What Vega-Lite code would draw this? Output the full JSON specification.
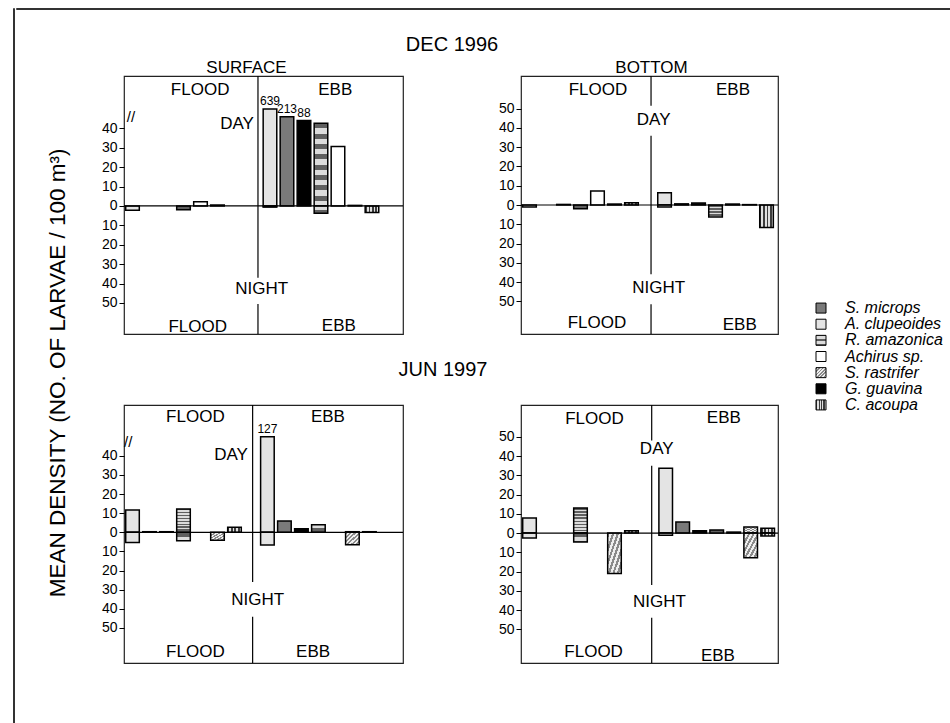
{
  "$schema": "https://vega.github.io/schema/vega-lite/v6.json",
  "padding": {"left": 12, "top": 7, "right": 0, "bottom": 0},
  "params": [
    {"name": "gR", "value": {"gradient": "linear", "x1": 0, "y1": 0, "x2": 0, "y2": 1, "stops": [
      {"offset": 0, "color": "#5f5f5f"}, {"offset": 0.0625, "color": "#5f5f5f"}, {"offset": 0.0625, "color": "#dcdcdc"}, {"offset": 0.125, "color": "#dcdcdc"},
      {"offset": 0.125, "color": "#5f5f5f"}, {"offset": 0.1875, "color": "#5f5f5f"}, {"offset": 0.1875, "color": "#dcdcdc"}, {"offset": 0.25, "color": "#dcdcdc"},
      {"offset": 0.25, "color": "#5f5f5f"}, {"offset": 0.3125, "color": "#5f5f5f"}, {"offset": 0.3125, "color": "#dcdcdc"}, {"offset": 0.375, "color": "#dcdcdc"},
      {"offset": 0.375, "color": "#5f5f5f"}, {"offset": 0.4375, "color": "#5f5f5f"}, {"offset": 0.4375, "color": "#dcdcdc"}, {"offset": 0.5, "color": "#dcdcdc"},
      {"offset": 0.5, "color": "#5f5f5f"}, {"offset": 0.5625, "color": "#5f5f5f"}, {"offset": 0.5625, "color": "#dcdcdc"}, {"offset": 0.625, "color": "#dcdcdc"},
      {"offset": 0.625, "color": "#5f5f5f"}, {"offset": 0.6875, "color": "#5f5f5f"}, {"offset": 0.6875, "color": "#dcdcdc"}, {"offset": 0.75, "color": "#dcdcdc"},
      {"offset": 0.75, "color": "#5f5f5f"}, {"offset": 0.8125, "color": "#5f5f5f"}, {"offset": 0.8125, "color": "#dcdcdc"}, {"offset": 0.875, "color": "#dcdcdc"},
      {"offset": 0.875, "color": "#5f5f5f"}, {"offset": 0.9375, "color": "#5f5f5f"}, {"offset": 0.9375, "color": "#dcdcdc"}, {"offset": 1, "color": "#dcdcdc"}
    ]}},
    {"name": "gS", "value": {"gradient": "linear", "x1": 0, "y1": 0, "x2": 1, "y2": 1, "stops": [
      {"offset": 0, "color": "#8a8a8a"}, {"offset": 0.0833, "color": "#8a8a8a"}, {"offset": 0.0833, "color": "#efefef"}, {"offset": 0.1667, "color": "#efefef"},
      {"offset": 0.1667, "color": "#8a8a8a"}, {"offset": 0.25, "color": "#8a8a8a"}, {"offset": 0.25, "color": "#efefef"}, {"offset": 0.3333, "color": "#efefef"},
      {"offset": 0.3333, "color": "#8a8a8a"}, {"offset": 0.4167, "color": "#8a8a8a"}, {"offset": 0.4167, "color": "#efefef"}, {"offset": 0.5, "color": "#efefef"},
      {"offset": 0.5, "color": "#8a8a8a"}, {"offset": 0.5833, "color": "#8a8a8a"}, {"offset": 0.5833, "color": "#efefef"}, {"offset": 0.6667, "color": "#efefef"},
      {"offset": 0.6667, "color": "#8a8a8a"}, {"offset": 0.75, "color": "#8a8a8a"}, {"offset": 0.75, "color": "#efefef"}, {"offset": 0.8333, "color": "#efefef"},
      {"offset": 0.8333, "color": "#8a8a8a"}, {"offset": 0.9167, "color": "#8a8a8a"}, {"offset": 0.9167, "color": "#efefef"}, {"offset": 1, "color": "#efefef"}
    ]}},
    {"name": "gC", "value": {"gradient": "linear", "x1": 0, "y1": 0, "x2": 1, "y2": 0, "stops": [
      {"offset": 0, "color": "#3c3c3c"}, {"offset": 0.125, "color": "#3c3c3c"}, {"offset": 0.125, "color": "#e0e0e0"}, {"offset": 0.25, "color": "#e0e0e0"},
      {"offset": 0.25, "color": "#3c3c3c"}, {"offset": 0.375, "color": "#3c3c3c"}, {"offset": 0.375, "color": "#e0e0e0"}, {"offset": 0.5, "color": "#e0e0e0"},
      {"offset": 0.5, "color": "#3c3c3c"}, {"offset": 0.625, "color": "#3c3c3c"}, {"offset": 0.625, "color": "#e0e0e0"}, {"offset": 0.75, "color": "#e0e0e0"},
      {"offset": 0.75, "color": "#3c3c3c"}, {"offset": 0.875, "color": "#3c3c3c"}, {"offset": 0.875, "color": "#e0e0e0"}, {"offset": 1, "color": "#e0e0e0"}
    ]}}
  ],
  "datasets": {
    "one": [{}],
    "legend": [
      {"sp": "S. microps"}, {"sp": "A. clupeoides"}, {"sp": "R. amazonica"}, {"sp": "Achirus sp."},
      {"sp": "S. rastrifer"}, {"sp": "G. guavina"}, {"sp": "C. acoupa"}
    ],
    "bars": [
      {"panel": "DS", "tide": "FLOOD", "sp": "A. clupeoides", "value": -2.2},
      {"panel": "DS", "tide": "FLOOD", "sp": "R. amazonica", "value": -2},
      {"panel": "DS", "tide": "FLOOD", "sp": "Achirus sp.", "value": 2.2},
      {"panel": "DS", "tide": "FLOOD", "sp": "S. rastrifer", "value": 0.5},
      {"panel": "DS", "tide": "EBB", "sp": "A. clupeoides", "value": 50, "label": "639"},
      {"panel": "DS", "tide": "EBB", "sp": "A. clupeoides", "value": -0.6},
      {"panel": "DS", "tide": "EBB", "sp": "S. microps", "value": 46, "label": "213"},
      {"panel": "DS", "tide": "EBB", "sp": "G. guavina", "value": 44, "label": "88"},
      {"panel": "DS", "tide": "EBB", "sp": "R. amazonica", "value": 42.6},
      {"panel": "DS", "tide": "EBB", "sp": "R. amazonica", "value": -3.7},
      {"panel": "DS", "tide": "EBB", "sp": "Achirus sp.", "value": 30.6},
      {"panel": "DS", "tide": "EBB", "sp": "S. rastrifer", "value": 0.3},
      {"panel": "DS", "tide": "EBB", "sp": "C. acoupa", "value": -3.4},
      {"panel": "DB", "tide": "FLOOD", "sp": "A. clupeoides", "value": -1},
      {"panel": "DB", "tide": "FLOOD", "sp": "G. guavina", "value": 0.3},
      {"panel": "DB", "tide": "FLOOD", "sp": "R. amazonica", "value": -1.9},
      {"panel": "DB", "tide": "FLOOD", "sp": "Achirus sp.", "value": 7.3},
      {"panel": "DB", "tide": "FLOOD", "sp": "S. rastrifer", "value": 0.5},
      {"panel": "DB", "tide": "FLOOD", "sp": "C. acoupa", "value": 1.2},
      {"panel": "DB", "tide": "EBB", "sp": "A. clupeoides", "value": 6.4},
      {"panel": "DB", "tide": "EBB", "sp": "A. clupeoides", "value": -1},
      {"panel": "DB", "tide": "EBB", "sp": "S. microps", "value": 0.6},
      {"panel": "DB", "tide": "EBB", "sp": "G. guavina", "value": 1},
      {"panel": "DB", "tide": "EBB", "sp": "R. amazonica", "value": -6.2},
      {"panel": "DB", "tide": "EBB", "sp": "Achirus sp.", "value": 0.5},
      {"panel": "DB", "tide": "EBB", "sp": "S. rastrifer", "value": 0.2},
      {"panel": "DB", "tide": "EBB", "sp": "C. acoupa", "value": -11.7},
      {"panel": "JS", "tide": "FLOOD", "sp": "A. clupeoides", "value": 11.7},
      {"panel": "JS", "tide": "FLOOD", "sp": "A. clupeoides", "value": -5.4},
      {"panel": "JS", "tide": "FLOOD", "sp": "S. microps", "value": 0.3},
      {"panel": "JS", "tide": "FLOOD", "sp": "G. guavina", "value": 0.3},
      {"panel": "JS", "tide": "FLOOD", "sp": "R. amazonica", "value": 12.2},
      {"panel": "JS", "tide": "FLOOD", "sp": "R. amazonica", "value": -4.4},
      {"panel": "JS", "tide": "FLOOD", "sp": "S. rastrifer", "value": -4.2},
      {"panel": "JS", "tide": "FLOOD", "sp": "C. acoupa", "value": 2.6},
      {"panel": "JS", "tide": "EBB", "sp": "A. clupeoides", "value": 50, "label": "127"},
      {"panel": "JS", "tide": "EBB", "sp": "A. clupeoides", "value": -6.6},
      {"panel": "JS", "tide": "EBB", "sp": "S. microps", "value": 5.9},
      {"panel": "JS", "tide": "EBB", "sp": "G. guavina", "value": 1.9},
      {"panel": "JS", "tide": "EBB", "sp": "R. amazonica", "value": 4},
      {"panel": "JS", "tide": "EBB", "sp": "S. rastrifer", "value": 0.3},
      {"panel": "JS", "tide": "EBB", "sp": "S. rastrifer", "value": -6.5},
      {"panel": "JS", "tide": "EBB", "sp": "C. acoupa", "value": 0.3},
      {"panel": "JB", "tide": "FLOOD", "sp": "A. clupeoides", "value": 7.8},
      {"panel": "JB", "tide": "FLOOD", "sp": "A. clupeoides", "value": -2.6},
      {"panel": "JB", "tide": "FLOOD", "sp": "R. amazonica", "value": 13},
      {"panel": "JB", "tide": "FLOOD", "sp": "R. amazonica", "value": -4.7},
      {"panel": "JB", "tide": "FLOOD", "sp": "S. rastrifer", "value": -21},
      {"panel": "JB", "tide": "FLOOD", "sp": "C. acoupa", "value": 1.2},
      {"panel": "JB", "tide": "EBB", "sp": "A. clupeoides", "value": 33.7},
      {"panel": "JB", "tide": "EBB", "sp": "A. clupeoides", "value": -1.2},
      {"panel": "JB", "tide": "EBB", "sp": "S. microps", "value": 5.7},
      {"panel": "JB", "tide": "EBB", "sp": "G. guavina", "value": 1.2},
      {"panel": "JB", "tide": "EBB", "sp": "R. amazonica", "value": 1.6},
      {"panel": "JB", "tide": "EBB", "sp": "Achirus sp.", "value": 0.5},
      {"panel": "JB", "tide": "EBB", "sp": "S. rastrifer", "value": 3.1},
      {"panel": "JB", "tide": "EBB", "sp": "S. rastrifer", "value": -12.9},
      {"panel": "JB", "tide": "EBB", "sp": "C. acoupa", "value": 2.5},
      {"panel": "JB", "tide": "EBB", "sp": "C. acoupa", "value": -1.5}
    ]
  },
  "spacing": 0,
  "hconcat": [
    {
      "width": 1, "height": 716,
      "view": {"stroke": "#333", "strokeWidth": 1},
      "data": {"values": []},
      "mark": {"type": "rule"},
      "encoding": {}
    },
    {
      "spacing": 24,
      "vconcat": [
        {
          "width": 935, "height": 1,
          "view": {"stroke": "#333", "strokeWidth": 1},
          "data": {"values": []},
          "mark": {"type": "rule"},
          "encoding": {}
        },
        {
          "spacing": 30,
          "hconcat": [
            {
              "width": 1, "height": 1,
              "view": {"stroke": null},
              "data": {"values": []},
              "mark": {"type": "rule"},
              "encoding": {}
            },
            {
              "spacing": 31,
              "hconcat": [
                {
                  "title": {"text": "MEAN DENSITY (NO. OF LARVAE / 100 m³)", "orient": "left", "anchor": "middle", "fontSize": 22.5, "offset": 31, "dx": -23},
                  "spacing": 23,
                  "vconcat": [
                    {
                      "title": {"text": "DEC 1996", "anchor": "middle", "fontSize": 20, "offset": 4, "dx": 12},
                      "spacing": 92,
                      "hconcat": [
                        {
                          "width": 279, "height": 258,
                          "title": {"text": "SURFACE", "fontSize": 17, "offset": -2, "dx": -17},
                          "layer": [
                            {
                              "data": {"name": "bars"},
                              "transform": [{"filter": "datum.panel === 'DS'"}],
                              "mark": {"type": "bar", "stroke": "#000", "strokeWidth": 1.5},
                              "encoding": {
                                "x": {"field": "tide", "type": "nominal", "axis": null, "scale": {"domain": ["FLOOD", "EBB"], "paddingInner": 0.1345, "paddingOuter": 0.082, "align": 0}},
                                "xOffset": {"field": "sp", "type": "nominal", "scale": {"domain": ["A. clupeoides", "S. microps", "G. guavina", "R. amazonica", "Achirus sp.", "S. rastrifer", "C. acoupa"], "paddingInner": 0.2, "paddingOuter": 0.1}},
                                "y": {"field": "value", "type": "quantitative", "stack": null, "scale": {"domain": [-66, 67], "nice": false, "zero": false}, "axis": {"values": [40, 30, 20, 10, 0, -10, -20, -30, -40, -50], "tickCount": 30, "labelExpr": "abs(datum.value)", "title": null, "labelFontSize": 14, "labelOverlap": false}},
                                "fill": {"condition": [
                                  {"test": "datum.sp === 'S. microps'", "value": "#7a7a7a"},
                                  {"test": "datum.sp === 'A. clupeoides'", "value": "#e4e4e4"},
                                  {"test": "datum.sp === 'R. amazonica'", "value": {"expr": "gR"}},
                                  {"test": "datum.sp === 'S. rastrifer'", "value": {"expr": "gS"}},
                                  {"test": "datum.sp === 'G. guavina'", "value": "#000000"},
                                  {"test": "datum.sp === 'C. acoupa'", "value": {"expr": "gC"}}
                                ], "value": "#ffffff"}
                              }
                            },
                            {
                              "data": {"name": "bars"},
                              "transform": [{"filter": "datum.panel === 'DS' && datum.label"}],
                              "mark": {"type": "text", "baseline": "bottom", "dy": -1, "fontSize": 12},
                              "encoding": {
                                "x": {"field": "tide", "type": "nominal", "axis": null},
                                "xOffset": {"field": "sp", "type": "nominal"},
                                "y": {"field": "value", "type": "quantitative"},
                                "text": {"field": "label"}
                              }
                            },
                            {"data": {"name": "one"}, "mark": {"type": "rule", "color": "#000", "strokeWidth": 1.2}, "encoding": {"y": {"datum": 0}}},
                            {"data": {"name": "one"}, "mark": {"type": "rule", "color": "#000", "strokeWidth": 1.2}, "encoding": {"x": {"datum": "FLOOD", "type": "nominal", "bandPosition": 1.126, "axis": null}, "y": {"datum": 67}, "y2": {"datum": -37}}},
                            {"data": {"name": "one"}, "mark": {"type": "rule", "color": "#000", "strokeWidth": 1.2}, "encoding": {"x": {"datum": "FLOOD", "type": "nominal", "bandPosition": 1.126, "axis": null}, "y": {"datum": -50.5}, "y2": {"datum": -66}}},
                            {"data": {"name": "one"}, "mark": {"type": "text", "fontSize": 17, "baseline": "middle"}, "encoding": {"x": {"datum": "FLOOD", "type": "nominal", "bandPosition": 0.64, "axis": null}, "y": {"datum": 60}, "text": {"value": "FLOOD"}}},
                            {"data": {"name": "one"}, "mark": {"type": "text", "fontSize": 17, "baseline": "middle"}, "encoding": {"x": {"datum": "EBB", "type": "nominal", "bandPosition": 0.62, "axis": null}, "y": {"datum": 60}, "text": {"value": "EBB"}}},
                            {"data": {"name": "one"}, "mark": {"type": "text", "fontSize": 17, "baseline": "middle"}, "encoding": {"x": {"datum": "FLOOD", "type": "nominal", "bandPosition": 0.95, "axis": null}, "y": {"datum": 42.4}, "text": {"value": "DAY"}}},
                            {"data": {"name": "one"}, "mark": {"type": "text", "fontSize": 17, "baseline": "middle"}, "encoding": {"x": {"datum": "FLOOD", "type": "nominal", "bandPosition": 1.157, "axis": null}, "y": {"datum": -42.8}, "text": {"value": "NIGHT"}}},
                            {"data": {"name": "one"}, "mark": {"type": "text", "fontSize": 17, "baseline": "middle"}, "encoding": {"x": {"datum": "FLOOD", "type": "nominal", "bandPosition": 0.62, "axis": null}, "y": {"datum": -62.4}, "text": {"value": "FLOOD"}}},
                            {"data": {"name": "one"}, "mark": {"type": "text", "fontSize": 17, "baseline": "middle"}, "encoding": {"x": {"datum": "EBB", "type": "nominal", "bandPosition": 0.65, "axis": null}, "y": {"datum": -62}, "text": {"value": "EBB"}}},
                            {"data": {"name": "one"}, "mark": {"type": "text", "fontSize": 15, "baseline": "middle"}, "encoding": {"x": {"datum": "FLOOD", "type": "nominal", "bandPosition": 0.059, "axis": null}, "y": {"datum": 46}, "text": {"value": "//"}}}
                          ]
                        },
                        {
                          "width": 257, "height": 258,
                          "title": {"text": "BOTTOM", "fontSize": 17, "offset": -2, "dx": 2},
                          "layer": [
                            {
                              "data": {"name": "bars"},
                              "transform": [{"filter": "datum.panel === 'DB'"}],
                              "mark": {"type": "bar", "stroke": "#000", "strokeWidth": 1.5},
                              "encoding": {
                                "x": {"field": "tide", "type": "nominal", "axis": null, "scale": {"domain": ["FLOOD", "EBB"], "paddingInner": 0.115, "paddingOuter": 0.009, "align": 0}},
                                "xOffset": {"field": "sp", "type": "nominal", "scale": {"domain": ["A. clupeoides", "S. microps", "G. guavina", "R. amazonica", "Achirus sp.", "S. rastrifer", "C. acoupa"], "paddingInner": 0.2, "paddingOuter": 0.1}},
                                "y": {"field": "value", "type": "quantitative", "stack": null, "scale": {"domain": [-67, 67], "nice": false, "zero": false}, "axis": {"values": [50, 40, 30, 20, 10, 0, -10, -20, -30, -40, -50], "tickCount": 30, "labelExpr": "abs(datum.value)", "title": null, "labelFontSize": 14, "labelOverlap": false}},
                                "fill": {"condition": [
                                  {"test": "datum.sp === 'S. microps'", "value": "#7a7a7a"},
                                  {"test": "datum.sp === 'A. clupeoides'", "value": "#e4e4e4"},
                                  {"test": "datum.sp === 'R. amazonica'", "value": {"expr": "gR"}},
                                  {"test": "datum.sp === 'S. rastrifer'", "value": {"expr": "gS"}},
                                  {"test": "datum.sp === 'G. guavina'", "value": "#000000"},
                                  {"test": "datum.sp === 'C. acoupa'", "value": {"expr": "gC"}}
                                ], "value": "#ffffff"}
                              }
                            },
                            {"data": {"name": "one"}, "mark": {"type": "rule", "color": "#000", "strokeWidth": 1.2}, "encoding": {"y": {"datum": 0}}},
                            {"data": {"name": "one"}, "mark": {"type": "rule", "color": "#000", "strokeWidth": 1.2}, "encoding": {"x": {"datum": "FLOOD", "type": "nominal", "bandPosition": 1.088, "axis": null}, "y": {"datum": 67}, "y2": {"datum": 51.6}}},
                            {"data": {"name": "one"}, "mark": {"type": "rule", "color": "#000", "strokeWidth": 1.2}, "encoding": {"x": {"datum": "FLOOD", "type": "nominal", "bandPosition": 1.088, "axis": null}, "y": {"datum": 36}, "y2": {"datum": -36}}},
                            {"data": {"name": "one"}, "mark": {"type": "rule", "color": "#000", "strokeWidth": 1.2}, "encoding": {"x": {"datum": "FLOOD", "type": "nominal", "bandPosition": 1.088, "axis": null}, "y": {"datum": -51.5}, "y2": {"datum": -67}}},
                            {"data": {"name": "one"}, "mark": {"type": "text", "fontSize": 17, "baseline": "middle"}, "encoding": {"x": {"datum": "FLOOD", "type": "nominal", "bandPosition": 0.644, "axis": null}, "y": {"datum": 59.6}, "text": {"value": "FLOOD"}}},
                            {"data": {"name": "one"}, "mark": {"type": "text", "fontSize": 17, "baseline": "middle"}, "encoding": {"x": {"datum": "EBB", "type": "nominal", "bandPosition": 0.644, "axis": null}, "y": {"datum": 59.6}, "text": {"value": "EBB"}}},
                            {"data": {"name": "one"}, "mark": {"type": "text", "fontSize": 17, "baseline": "middle"}, "encoding": {"x": {"datum": "FLOOD", "type": "nominal", "bandPosition": 1.11, "axis": null}, "y": {"datum": 44}, "text": {"value": "DAY"}}},
                            {"data": {"name": "one"}, "mark": {"type": "text", "fontSize": 17, "baseline": "middle"}, "encoding": {"x": {"datum": "FLOOD", "type": "nominal", "bandPosition": 1.152, "axis": null}, "y": {"datum": -43.2}, "text": {"value": "NIGHT"}}},
                            {"data": {"name": "one"}, "mark": {"type": "text", "fontSize": 17, "baseline": "middle"}, "encoding": {"x": {"datum": "FLOOD", "type": "nominal", "bandPosition": 0.636, "axis": null}, "y": {"datum": -61.5}, "text": {"value": "FLOOD"}}},
                            {"data": {"name": "one"}, "mark": {"type": "text", "fontSize": 17, "baseline": "middle"}, "encoding": {"x": {"datum": "EBB", "type": "nominal", "bandPosition": 0.7, "axis": null}, "y": {"datum": -62.3}, "text": {"value": "EBB"}}}
                          ]
                        }
                      ]
                    },
                    {
                      "title": {"text": "JUN 1997", "anchor": "middle", "fontSize": 20, "offset": 24, "dx": 3},
                      "spacing": 92,
                      "hconcat": [
                        {
                          "width": 279, "height": 258,
                          "layer": [
                            {
                              "data": {"name": "bars"},
                              "transform": [{"filter": "datum.panel === 'JS'"}],
                              "mark": {"type": "bar", "stroke": "#000", "strokeWidth": 1.5},
                              "encoding": {
                                "x": {"field": "tide", "type": "nominal", "axis": null, "scale": {"domain": ["FLOOD", "EBB"], "paddingInner": 0.118, "paddingOuter": 0.093, "align": 0}},
                                "xOffset": {"field": "sp", "type": "nominal", "scale": {"domain": ["A. clupeoides", "S. microps", "G. guavina", "R. amazonica", "Achirus sp.", "S. rastrifer", "C. acoupa"], "paddingInner": 0.2, "paddingOuter": 0.1}},
                                "y": {"field": "value", "type": "quantitative", "stack": null, "scale": {"domain": [-68.4, 66.6], "nice": false, "zero": false}, "axis": {"values": [40, 30, 20, 10, 0, -10, -20, -30, -40, -50], "tickCount": 30, "labelExpr": "abs(datum.value)", "title": null, "labelFontSize": 14, "labelOverlap": false}},
                                "fill": {"condition": [
                                  {"test": "datum.sp === 'S. microps'", "value": "#7a7a7a"},
                                  {"test": "datum.sp === 'A. clupeoides'", "value": "#e4e4e4"},
                                  {"test": "datum.sp === 'R. amazonica'", "value": {"expr": "gR"}},
                                  {"test": "datum.sp === 'S. rastrifer'", "value": {"expr": "gS"}},
                                  {"test": "datum.sp === 'G. guavina'", "value": "#000000"},
                                  {"test": "datum.sp === 'C. acoupa'", "value": {"expr": "gC"}}
                                ], "value": "#ffffff"}
                              }
                            },
                            {
                              "data": {"name": "bars"},
                              "transform": [{"filter": "datum.panel === 'JS' && datum.label"}],
                              "mark": {"type": "text", "baseline": "bottom", "dy": -1, "fontSize": 12},
                              "encoding": {
                                "x": {"field": "tide", "type": "nominal", "axis": null},
                                "xOffset": {"field": "sp", "type": "nominal"},
                                "y": {"field": "value", "type": "quantitative"},
                                "text": {"field": "label"}
                              }
                            },
                            {"data": {"name": "one"}, "mark": {"type": "rule", "color": "#000", "strokeWidth": 1.2}, "encoding": {"y": {"datum": 0}}},
                            {"data": {"name": "one"}, "mark": {"type": "rule", "color": "#000", "strokeWidth": 1.2}, "encoding": {"x": {"datum": "FLOOD", "type": "nominal", "bandPosition": 1.081, "axis": null}, "y": {"datum": 66.6}, "y2": {"datum": -26}}},
                            {"data": {"name": "one"}, "mark": {"type": "rule", "color": "#000", "strokeWidth": 1.2}, "encoding": {"x": {"datum": "FLOOD", "type": "nominal", "bandPosition": 1.081, "axis": null}, "y": {"datum": -44.2}, "y2": {"datum": -68.4}}},
                            {"data": {"name": "one"}, "mark": {"type": "text", "fontSize": 17, "baseline": "middle"}, "encoding": {"x": {"datum": "FLOOD", "type": "nominal", "bandPosition": 0.6, "axis": null}, "y": {"datum": 60.2}, "text": {"value": "FLOOD"}}},
                            {"data": {"name": "one"}, "mark": {"type": "text", "fontSize": 17, "baseline": "middle"}, "encoding": {"x": {"datum": "EBB", "type": "nominal", "bandPosition": 0.58, "axis": null}, "y": {"datum": 60.2}, "text": {"value": "EBB"}}},
                            {"data": {"name": "one"}, "mark": {"type": "text", "fontSize": 17, "baseline": "middle"}, "encoding": {"x": {"datum": "FLOOD", "type": "nominal", "bandPosition": 0.9, "axis": null}, "y": {"datum": 40.5}, "text": {"value": "DAY"}}},
                            {"data": {"name": "one"}, "mark": {"type": "text", "fontSize": 17, "baseline": "middle"}, "encoding": {"x": {"datum": "FLOOD", "type": "nominal", "bandPosition": 1.123, "axis": null}, "y": {"datum": -35.4}, "text": {"value": "NIGHT"}}},
                            {"data": {"name": "one"}, "mark": {"type": "text", "fontSize": 17, "baseline": "middle"}, "encoding": {"x": {"datum": "FLOOD", "type": "nominal", "bandPosition": 0.6, "axis": null}, "y": {"datum": -62.5}, "text": {"value": "FLOOD"}}},
                            {"data": {"name": "one"}, "mark": {"type": "text", "fontSize": 17, "baseline": "middle"}, "encoding": {"x": {"datum": "EBB", "type": "nominal", "bandPosition": 0.455, "axis": null}, "y": {"datum": -62.5}, "text": {"value": "EBB"}}},
                            {"data": {"name": "one"}, "mark": {"type": "text", "fontSize": 15, "baseline": "middle"}, "encoding": {"x": {"datum": "FLOOD", "type": "nominal", "bandPosition": 0.035, "axis": null}, "y": {"datum": 47}, "text": {"value": "//"}}}
                          ]
                        },
                        {
                          "width": 257, "height": 258,
                          "layer": [
                            {
                              "data": {"name": "bars"},
                              "transform": [{"filter": "datum.panel === 'JB'"}],
                              "mark": {"type": "bar", "stroke": "#000", "strokeWidth": 1.5},
                              "encoding": {
                                "x": {"field": "tide", "type": "nominal", "axis": null, "scale": {"domain": ["FLOOD", "EBB"], "paddingInner": 0.126, "paddingOuter": 0.0065, "align": 0}},
                                "xOffset": {"field": "sp", "type": "nominal", "scale": {"domain": ["A. clupeoides", "S. microps", "G. guavina", "R. amazonica", "Achirus sp.", "S. rastrifer", "C. acoupa"], "paddingInner": 0.2, "paddingOuter": 0.1}},
                                "y": {"field": "value", "type": "quantitative", "stack": null, "scale": {"domain": [-67.5, 66.5], "nice": false, "zero": false}, "axis": {"values": [50, 40, 30, 20, 10, 0, -10, -20, -30, -40, -50], "tickCount": 30, "labelExpr": "abs(datum.value)", "title": null, "labelFontSize": 14, "labelOverlap": false}},
                                "fill": {"condition": [
                                  {"test": "datum.sp === 'S. microps'", "value": "#7a7a7a"},
                                  {"test": "datum.sp === 'A. clupeoides'", "value": "#e4e4e4"},
                                  {"test": "datum.sp === 'R. amazonica'", "value": {"expr": "gR"}},
                                  {"test": "datum.sp === 'S. rastrifer'", "value": {"expr": "gS"}},
                                  {"test": "datum.sp === 'G. guavina'", "value": "#000000"},
                                  {"test": "datum.sp === 'C. acoupa'", "value": {"expr": "gC"}}
                                ], "value": "#ffffff"}
                              }
                            },
                            {"data": {"name": "one"}, "mark": {"type": "rule", "color": "#000", "strokeWidth": 1.2}, "encoding": {"y": {"datum": 0}}},
                            {"data": {"name": "one"}, "mark": {"type": "rule", "color": "#000", "strokeWidth": 1.2}, "encoding": {"x": {"datum": "FLOOD", "type": "nominal", "bandPosition": 1.098, "axis": null}, "y": {"datum": 66.5}, "y2": {"datum": 48}}},
                            {"data": {"name": "one"}, "mark": {"type": "rule", "color": "#000", "strokeWidth": 1.2}, "encoding": {"x": {"datum": "FLOOD", "type": "nominal", "bandPosition": 1.098, "axis": null}, "y": {"datum": 35}, "y2": {"datum": -27}}},
                            {"data": {"name": "one"}, "mark": {"type": "rule", "color": "#000", "strokeWidth": 1.2}, "encoding": {"x": {"datum": "FLOOD", "type": "nominal", "bandPosition": 1.098, "axis": null}, "y": {"datum": -44}, "y2": {"datum": -67.5}}},
                            {"data": {"name": "one"}, "mark": {"type": "text", "fontSize": 17, "baseline": "middle"}, "encoding": {"x": {"datum": "FLOOD", "type": "nominal", "bandPosition": 0.617, "axis": null}, "y": {"datum": 59.3}, "text": {"value": "FLOOD"}}},
                            {"data": {"name": "one"}, "mark": {"type": "text", "fontSize": 17, "baseline": "middle"}, "encoding": {"x": {"datum": "EBB", "type": "nominal", "bandPosition": 0.56, "axis": null}, "y": {"datum": 59.5}, "text": {"value": "EBB"}}},
                            {"data": {"name": "one"}, "mark": {"type": "text", "fontSize": 17, "baseline": "middle"}, "encoding": {"x": {"datum": "FLOOD", "type": "nominal", "bandPosition": 1.14, "axis": null}, "y": {"datum": 43.4}, "text": {"value": "DAY"}}},
                            {"data": {"name": "one"}, "mark": {"type": "text", "fontSize": 17, "baseline": "middle"}, "encoding": {"x": {"datum": "FLOOD", "type": "nominal", "bandPosition": 1.163, "axis": null}, "y": {"datum": -35.7}, "text": {"value": "NIGHT"}}},
                            {"data": {"name": "one"}, "mark": {"type": "text", "fontSize": 17, "baseline": "middle"}, "encoding": {"x": {"datum": "FLOOD", "type": "nominal", "bandPosition": 0.61, "axis": null}, "y": {"datum": -62}, "text": {"value": "FLOOD"}}},
                            {"data": {"name": "one"}, "mark": {"type": "text", "fontSize": 17, "baseline": "middle"}, "encoding": {"x": {"datum": "EBB", "type": "nominal", "bandPosition": 0.51, "axis": null}, "y": {"datum": -64}, "text": {"value": "EBB"}}}
                          ]
                        }
                      ]
                    }
                  ]
                },
                {
                  "spacing": 223,
                  "vconcat": [
                    {
                      "width": 1, "height": 1,
                      "view": {"stroke": null},
                      "data": {"values": []},
                      "mark": {"type": "rule"},
                      "encoding": {}
                    },
                    {
                      "width": 20, "height": 113,
                      "view": {"stroke": null},
                      "data": {"name": "legend"},
                      "layer": [
                        {
                          "mark": {"type": "point", "shape": "square", "size": 100, "filled": true, "stroke": "#000", "strokeWidth": 1, "opacity": 1},
                          "encoding": {
                            "y": {"field": "sp", "type": "nominal", "axis": null, "scale": {"type": "point", "domain": ["S. microps", "A. clupeoides", "R. amazonica", "Achirus sp.", "S. rastrifer", "G. guavina", "C. acoupa"], "padding": 0.5}},
                            "fill": {"condition": [
                              {"test": "datum.sp === 'S. microps'", "value": "#7a7a7a"},
                              {"test": "datum.sp === 'A. clupeoides'", "value": "#e4e4e4"},
                              {"test": "datum.sp === 'R. amazonica'", "value": {"expr": "gR"}},
                              {"test": "datum.sp === 'S. rastrifer'", "value": {"expr": "gS"}},
                              {"test": "datum.sp === 'G. guavina'", "value": "#000000"},
                              {"test": "datum.sp === 'C. acoupa'", "value": {"expr": "gC"}}
                            ], "value": "#ffffff"}
                          }
                        },
                        {
                          "mark": {"type": "text", "align": "left", "dx": 24, "fontSize": 16, "fontStyle": "italic", "baseline": "middle"},
                          "encoding": {
                            "y": {"field": "sp", "type": "nominal", "axis": null},
                            "text": {"field": "sp"}
                          }
                        }
                      ]
                    }
                  ]
                }
              ]
            }
          ]
        }
      ]
    }
  ],
  "config": {
    "font": "Liberation Sans",
    "view": {"stroke": "#222", "strokeWidth": 1.2},
    "axisY": {"domain": false, "grid": false, "ticks": true, "tickColor": "#000", "tickSize": 5, "labelFontSize": 14, "labelColor": "#000", "labelPadding": 2},
    "title": {"fontWeight": "normal", "color": "#000"},
    "text": {"color": "#000"}
  }
}
